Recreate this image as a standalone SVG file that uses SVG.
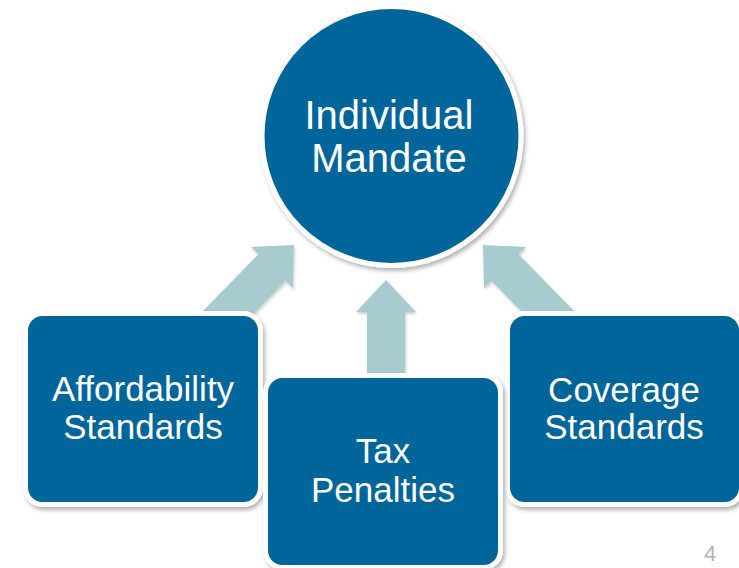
<svg xmlns="http://www.w3.org/2000/svg" width="739" height="568" viewBox="0 0 739 568">
  <defs>
    <filter id="sh" x="-10%" y="-10%" width="130%" height="130%">
      <feDropShadow dx="2" dy="3" stdDeviation="2" flood-color="#000" flood-opacity="0.3"/>
    </filter>
    <filter id="ash" x="-10%" y="-10%" width="130%" height="130%">
      <feDropShadow dx="1" dy="2" stdDeviation="1.5" flood-color="#000" flood-opacity="0.2"/>
    </filter>
  </defs>
  <style>
    .node { fill: #02659A; stroke: #FFFFFF; stroke-width: 5; filter: url(#sh); }
    .arrow { fill: #A8CBD0; filter: url(#ash); }
    .lbl { font-family: "Liberation Sans", Arial, sans-serif; fill: #FFFFFF; text-anchor: middle; }
  </style>
  <rect width="739" height="568" fill="#FFFFFF"/>
  <g id="connectors">
    <polygon class="arrow" points="294,245 293,288 285.6,280.8 215.7,352.3 188.5,325.7 258.4,254.2 251,247"/>
    <polygon class="arrow" points="386,280 416,312 405,312 405,390 367,390 367,312 356,312"/>
    <polygon class="arrow" points="483,245 484,288 491.4,280.8 561.3,352.3 588.5,325.7 518.6,254.2 526,247"/>
  </g>
  <g id="affordability">
    <rect class="node" x="25.5" y="313.5" width="235" height="191" rx="17"/>
    <text class="lbl" font-size="35" x="143" y="401">Affordability</text>
    <text class="lbl" font-size="35" x="143" y="439">Standards</text>
  </g>
  <g id="coverage">
    <rect class="node" x="507.5" y="313.5" width="234" height="191" rx="17"/>
    <text class="lbl" font-size="35" x="624" y="402">Coverage</text>
    <text class="lbl" font-size="35" x="624" y="439">Standards</text>
  </g>
  <g id="tax">
    <rect class="node" x="265.5" y="375.5" width="235" height="192" rx="17"/>
    <text class="lbl" font-size="35" x="383" y="463">Tax</text>
    <text class="lbl" font-size="35" x="383" y="502">Penalties</text>
  </g>
  <g id="mandate">
    <circle class="node" cx="391.5" cy="136" r="129.5"/>
    <text class="lbl" font-size="40" x="389" y="129">Individual</text>
    <text class="lbl" font-size="40" x="389" y="172">Mandate</text>
  </g>
  <text x="710" y="561" font-family="Liberation Sans, Arial, sans-serif" font-size="22" fill="#B3B3B3" text-anchor="middle">4</text>
</svg>
